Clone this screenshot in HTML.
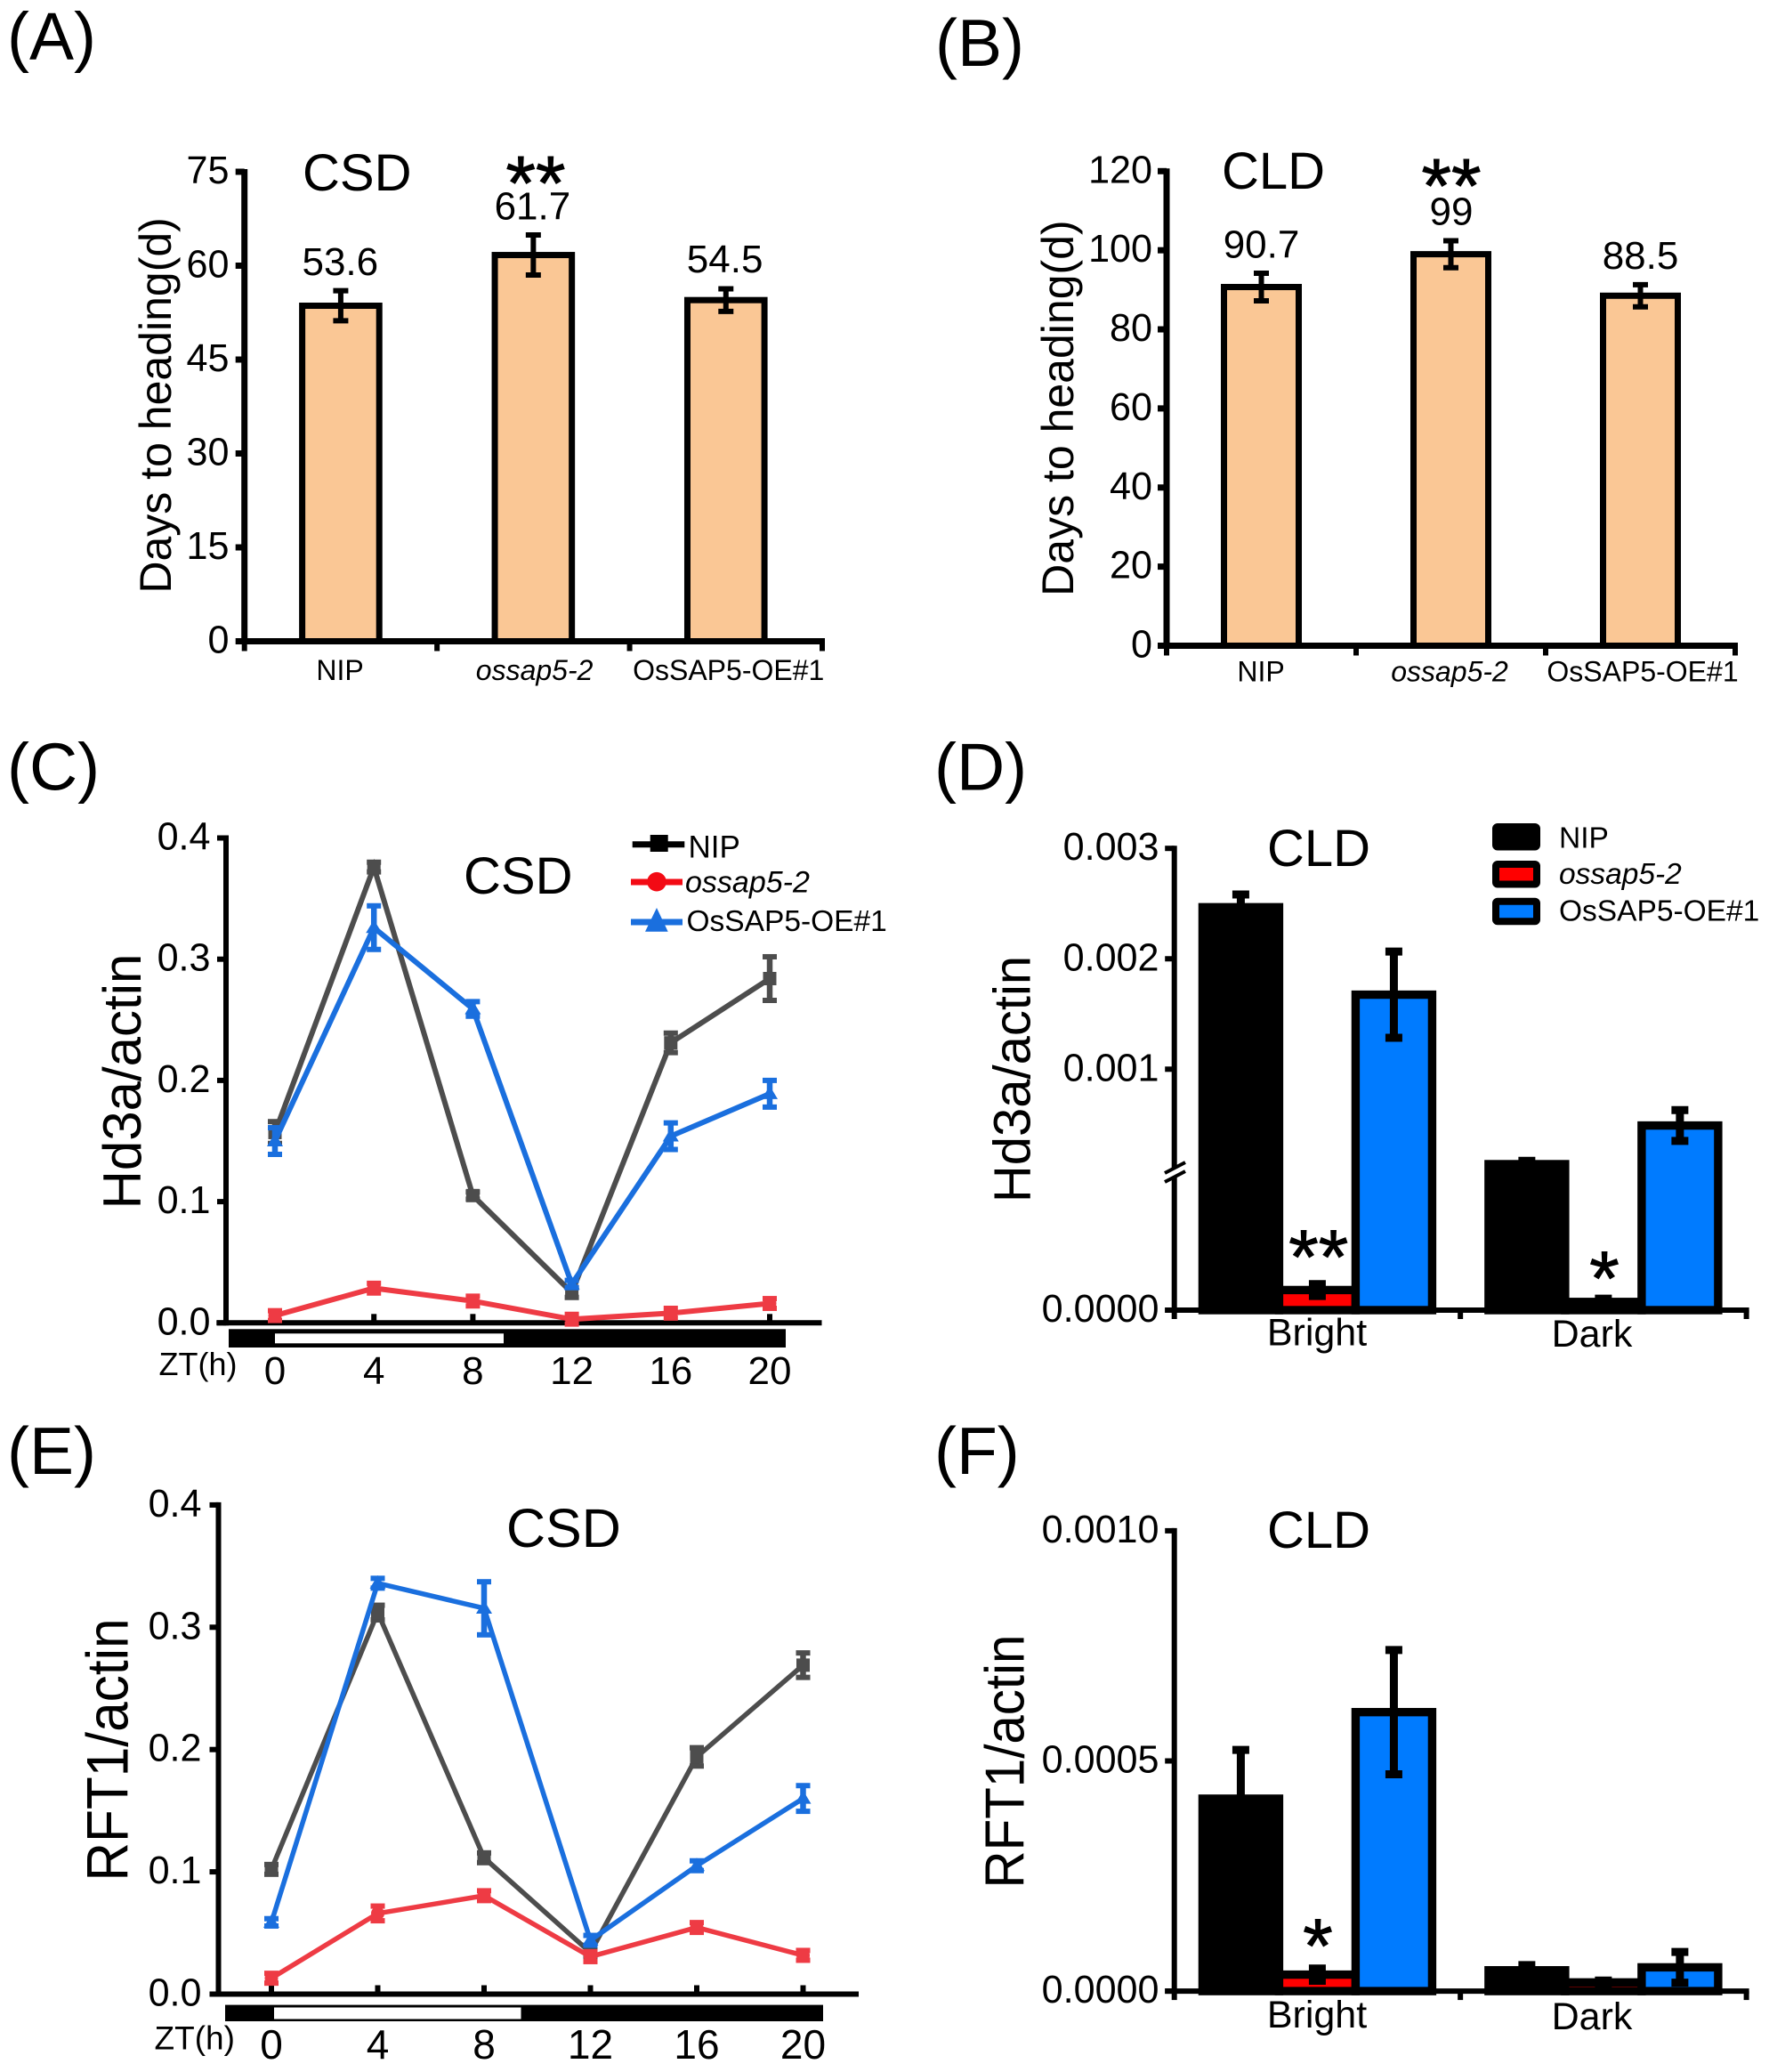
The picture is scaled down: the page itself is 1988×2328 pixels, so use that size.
<!DOCTYPE html>
<html>
<head>
<meta charset="utf-8">
<title>Heading date and florigen expression</title>
<style>
html,body{margin:0;padding:0;background:#fff;}
svg{display:block;}
text{font-family:"Liberation Sans",sans-serif;fill:#000;}
</style>
</head>
<body>
<svg id="figure" xmlns="http://www.w3.org/2000/svg" width="1988" height="2328" viewBox="0 0 1988 2328">
<rect x="0" y="0" width="1988" height="2328" fill="#fff"/>
<text x="8" y="66.5" font-size="75">(A)</text>
<text x="1051" y="74" font-size="75">(B)</text>
<text x="8" y="887.5" font-size="75">(C)</text>
<text x="1050" y="887.5" font-size="75">(D)</text>
<text x="8" y="1656" font-size="75">(E)</text>
<text x="1050" y="1656" font-size="75">(F)</text>
<text x="340" y="214" font-size="58">CSD</text>
<text x="1373" y="212" font-size="58">CLD</text>
<text x="521" y="1004" font-size="58">CSD</text>
<text x="1424" y="973" font-size="58">CLD</text>
<text x="569" y="1738" font-size="61">CSD</text>
<text x="1424" y="1739" font-size="58">CLD</text>
</svg>
<script>
// Panel A: days to heading, CSD
const panelACategories = ['NIP', 'ossap5-2', 'OsSAP5-OE#1'];
const panelAValues = [53.6, 61.7, 54.5];
const panelAErrors = [2.4, 3.2, 1.8];
const panelATickLabels = ['0', '15', '30', '45', '60', '75'];
// Panel B: days to heading, CLD
const panelBCategories = ['NIP', 'ossap5-2', 'OsSAP5-OE#1'];
const panelBValues = [90.7, 99, 88.5];
const panelBErrors = [3.5, 3.4, 2.8];
const panelBTickLabels = ['0', '20', '40', '60', '80', '100', '120'];
// Panel C: Hd3a time course, CSD
const panelCHours = [0, 4, 8, 12, 16, 20];
const panelCTickLabels = ['0.0', '0.1', '0.2', '0.3', '0.4'];
const panelCNip = [0.157, 0.376, 0.105, 0.025, 0.231, 0.284];
const panelCNipErr = [0.009, 0.004, 0.003, 0.004, 0.008, 0.018];
const panelCMutant = [0.006, 0.0286, 0.018, 0.003, 0.008, 0.016];
const panelCMutantErr = [0.004, 0.004, 0.004, 0.004, 0.004, 0.004];
const panelCOverexpr = [0.150, 0.326, 0.259, 0.032, 0.154, 0.189];
const panelCOverexprErr = [0.011, 0.018, 0.006, 0.003, 0.011, 0.011];
// Panel D: Hd3a bright/dark, CLD (broken axis)
const panelDGroups = ['Bright', 'Dark'];
const panelDTickLabels = ['0.0000', '0.001', '0.002', '0.003'];
const panelDNip = [0.002467, 0.00014];
const panelDNipErr = [0.000115, 0.00003];
const panelDMutant = [0.0000142, 0.0000058];
const panelDMutantErr = [0.0000042, 0.0000023];
const panelDOverexpr = [0.001675, 0.00049];
const panelDOverexprErr = [0.00039, 0.00014];
// Panel E: RFT1 time course, CSD
const panelEHours = [0, 4, 8, 12, 16, 20];
const panelETickLabels = ['0.0', '0.1', '0.2', '0.3', '0.4'];
const panelENip = [0.102, 0.312, 0.1115, 0.034, 0.194, 0.269];
const panelENipErr = [0.004, 0.006, 0.004, 0.003, 0.0075, 0.010];
const panelEMutant = [0.013, 0.066, 0.0805, 0.0306, 0.0545, 0.0317];
const panelEMutantErr = [0.004, 0.006, 0.004, 0.004, 0.004, 0.004];
const panelEOverexpr = [0.0587, 0.336, 0.3155, 0.044, 0.105, 0.16];
const panelEOverexprErr = [0.003, 0.004, 0.0217, 0.004, 0.004, 0.0105];
// Panel F: RFT1 bright/dark, CLD
const panelFGroups = ['Bright', 'Dark'];
const panelFTickLabels = ['0.0000', '0.0005', '0.0010'];
const panelFNip = [0.000418, 0.0000452];
const panelFNipErr = [0.000106, 0.0000114];
const panelFMutant = [0.0000358, 0.0000189];
const panelFMutantErr = [0.0000133, 0.000004];
const panelFOverexpr = [0.000606, 0.0000516];
const panelFOverexprErr = [0.000135, 0.0000334];

const NS = 'http://www.w3.org/2000/svg';
const root = document.getElementById('figure');

function node(tag, attrs, name) {
  const el = document.createElementNS(NS, tag);
  for (const k in attrs) el.setAttribute(k, attrs[k]);
  
  
  root.appendChild(el);
  return el;
}
function line(x1, y1, x2, y2, stroke, w, name) {
  return node('line', { x1: x1, y1: y1, x2: x2, y2: y2, stroke: stroke, 'stroke-width': w }, name);
}
function label(str, x, y, size, anchor, name, opts) {
  const o = opts || {};
  const sx = o.sx || 1;
  const rot = o.rot ? ' rotate(' + o.rot + ')' : '';
  const attrs = { transform: 'translate(' + x + ' ' + y + ')' + rot + ' scale(' + sx + ' 1)', 'font-size': size, 'text-anchor': anchor };
  if (o.italic) attrs['font-style'] = 'italic';
  if (o.heavy) { attrs.stroke = '#000'; attrs['stroke-width'] = o.heavy; }
  const el = node('text', attrs, name);
  el.textContent = str;
  return el;
}
function errorBar(x, yHigh, yLow, capW, w, capH, color, name) {
  line(x, yHigh, x, yLow, color, w, name + '-stem');
  line(x - capW / 2, yHigh, x + capW / 2, yHigh, color, capH, name + '-cap-top');
  line(x - capW / 2, yLow, x + capW / 2, yLow, color, capH, name + '-cap-bottom');
}
function linear(d0, d1, r0, r1) {
  return function (v) { return r0 + (v - d0) / (d1 - d0) * (r1 - r0); };
}
function yAxis(prefix, ax, yTop, yBottom, w, tickLen, labels, y, rightEdge, size, sx) {
  line(ax, yTop - 3, ax, yBottom + 3, '#000', w, prefix + '-y-axis');
  labels.forEach(function (t) {
    const yy = y(Number(t));
    line(ax - tickLen, yy, ax, yy, '#000', w, prefix + '-y-tick');
    label(t, rightEdge, yy + 13, size, 'end', prefix + '-y-tick-label', { sx: sx });
  });
}

/* Panels A, B: single peach bars */
function headingPanel(p) {
  const y = linear(0, p.max, p.bottom, p.top);
  const band = (p.right - p.left) / p.categories.length;
  const xc = function (i) { return p.left + (i + 0.5) * band; };
  p.values.forEach(function (v, i) {
    node('rect', { x: xc(i) - p.barW / 2, y: y(v), width: p.barW, height: p.bottom - y(v), fill: '#fac795', stroke: '#000', 'stroke-width': 7 }, p.id + '-bar-' + i);
    errorBar(xc(i), y(v + p.errors[i]), y(v - p.errors[i]), 17, 6, 6, '#000', p.id + '-error-' + i);
    label(String(v), p.valueX[i], p.valueY[i], 44, 'middle', p.id + '-value-' + i, {});
  });
  yAxis(p.id, p.left, p.top, p.bottom, 7, 10, p.ticks, y, p.labelRight, 44, 0.98);
  line(p.left - 3, p.bottom, p.right + 3, p.bottom, '#000', 7, p.id + '-x-axis');
  for (let i = 0; i <= p.categories.length; i++) {
    line(p.left + i * band, p.bottom, p.left + i * band, p.bottom + 11, '#000', 6, p.id + '-x-tick');
  }
  p.categories.forEach(function (c, i) {
    label(c, p.catX[i], p.catY, 32, 'middle', p.id + '-category-' + i, { italic: c === 'ossap5-2' });
  });
}
headingPanel({ id: 'panel-a', categories: panelACategories, values: panelAValues, errors: panelAErrors, ticks: panelATickLabels,
  left: 274.7, right: 924, top: 193, bottom: 720.5, max: 75, barW: 86.6, labelRight: 257.5,
  valueX: [382.3, 598.4, 814.6], valueY: [309, 246.5, 306], catX: [382, 600.6, 818.7], catY: 764 });
headingPanel({ id: 'panel-b', categories: panelBCategories, values: panelBValues, errors: panelBErrors, ticks: panelBTickLabels,
  left: 1311, right: 1950, top: 192.3, bottom: 725.5, max: 120, barW: 84, labelRight: 1295,
  valueX: [1417.5, 1631, 1843.5], valueY: [289.3, 252.6, 302], catX: [1417, 1629, 1846], catY: 765.3 });

/* Panels C, E: time courses */
function marker(kind, x, y, color, name) {
  if (kind === 'square') {
    node('rect', { x: x - 7.5, y: y - 7.5, width: 15, height: 15, fill: color }, name);
  } else if (kind === 'circle') {
    node('circle', { cx: x, cy: y, r: 7.5, fill: color }, name);
  } else {
    node('polygon', { points: (x - 9) + ',' + (y + 6) + ' ' + (x + 9) + ',' + (y + 6) + ' ' + x + ',' + (y - 9), fill: color }, name);
  }
}
function timePanel(p) {
  const x = linear(0, 20, p.x0, p.x20);
  const y = linear(0, 0.4, p.bottom, p.top);
  yAxis(p.id, p.axisX, p.top, p.bottom, 6, 10, p.ticks, y, p.labelRight, 44, 0.98);
  line(p.axisLeft, p.bottom, p.right, p.bottom, '#000', 6, p.id + '-x-axis');
  p.hours.forEach(function (h) {
    line(x(h), p.bottom - 10, x(h), p.bottom, '#000', 6, p.id + '-x-tick');
    label(String(h), x(h), p.hourY, p.hourSize, 'middle', p.id + '-x-tick-label', {});
  });
  node('rect', { x: p.barL, y: p.barT, width: p.barR - p.barL, height: p.barB - p.barT, fill: '#000' }, p.id + '-dark-period-bar');
  node('rect', { x: p.whiteL, y: p.whiteT, width: p.whiteR - p.whiteL, height: p.whiteB - p.whiteT, fill: '#fff' }, p.id + '-light-period-bar');
  p.series.forEach(function (s) {
    const pts = s.values.map(function (v, i) { return x(p.hours[i]) + ',' + y(v); }).join(' ');
    node('polyline', { points: pts, fill: 'none', stroke: s.color, 'stroke-width': p.lineW, 'stroke-linejoin': 'miter' }, p.id + '-line-' + s.key);
    s.values.forEach(function (v, i) {
      errorBar(x(p.hours[i]), y(v + s.errors[i]), y(v - s.errors[i]), 16, 6.5, 6, s.color, p.id + '-error-' + s.key);
      marker(s.kind, x(p.hours[i]), y(v), s.color, p.id + '-point-' + s.key);
    });
  });
}
const seriesGray = '#4d4d4d', seriesRed = '#ee3b44', seriesBlue = '#1a6fde';
timePanel({ id: 'panel-c', hours: panelCHours, ticks: panelCTickLabels, x0: 309, x20: 865, axisX: 254, axisLeft: 243.3, right: 923.5, top: 941.5, bottom: 1486.3,
  labelRight: 236.5, hourY: 1555, hourSize: 44, barL: 257, barR: 883, barT: 1493.3, barB: 1514, whiteL: 309, whiteR: 566, whiteT: 1498.3, whiteB: 1509.3, lineW: 6,
  series: [
    { key: 'nip', values: panelCNip, errors: panelCNipErr, color: seriesGray, kind: 'square' },
    { key: 'ossap5-2', values: panelCMutant, errors: panelCMutantErr, color: seriesRed, kind: 'circle' },
    { key: 'oe', values: panelCOverexpr, errors: panelCOverexprErr, color: seriesBlue, kind: 'triangle' }
  ] });
timePanel({ id: 'panel-e', hours: panelEHours, ticks: panelETickLabels, x0: 305, x20: 902.5, axisX: 245.5, axisLeft: 236, right: 965, top: 1690.9, bottom: 2240.5,
  labelRight: 226.5, hourY: 2313, hourSize: 46, barL: 253, barR: 925, barT: 2252.6, barB: 2271, whiteL: 308, whiteR: 585.5, whiteT: 2255.5, whiteB: 2268.5, lineW: 5.5,
  series: [
    { key: 'nip', values: panelENip, errors: panelENipErr, color: seriesGray, kind: 'square' },
    { key: 'oe', values: panelEOverexpr, errors: panelEOverexprErr, color: seriesBlue, kind: 'triangle' },
    { key: 'ossap5-2', values: panelEMutant, errors: panelEMutantErr, color: seriesRed, kind: 'circle' }
  ] });
label('ZT(h)', 178.5, 1545, 36, 'start', 'panel-c-zt-label', {});
label('ZT(h)', 173.5, 2302.5, 37, 'start', 'panel-e-zt-label', {});

/* Legend for panel C */
line(710.7, 948.7, 769.3, 948.7, '#000', 7, 'legend-line-nip');
node('rect', { x: 730.7, y: 938, width: 20, height: 19, fill: '#000' }, 'legend-marker-nip');
label('NIP', 773.5, 963.3, 35, 'start', 'legend-label-nip', {});
line(709, 991, 767, 991, '#f30a14', 7, 'legend-line-ossap5-2');
node('circle', { cx: 738, cy: 990.7, r: 10.8, fill: '#f30a14' }, 'legend-marker-ossap5-2');
label('ossap5-2', 770, 1002.7, 34, 'start', 'legend-label-ossap5-2', { italic: true });
line(709, 1036, 767, 1036, seriesBlue, 7, 'legend-line-oe');
node('polygon', { points: '725,1046.7 750.7,1046.7 738,1020', fill: seriesBlue }, 'legend-marker-oe');
label('OsSAP5-OE#1', 771.5, 1046, 33.5, 'start', 'legend-label-oe', {});

/* Panels D, F: grouped bars */
function groupedPanel(p) {
  const barW = 86;
  const band = (p.right - p.left) / p.groups.length;
  p.series.forEach(function (s, si) {
    s.values.forEach(function (v, g) {
      const xc = p.left + (g + 0.5) * band + (si - 1) * barW;
      const yy = p.y(v);
      node('rect', { x: xc - barW / 2, y: yy, width: barW, height: p.bottom - yy, fill: s.fill, stroke: '#000', 'stroke-width': 9.4 }, p.id + '-bar-' + s.key + '-' + g);
    });
  });
  yAxis(p.id, p.left, p.top, p.bottom, 6, 10.5, p.ticks, p.y, 1302.5, 44, 0.98);
  line(p.left - 10.5, p.bottom, p.right + 3, p.bottom, '#000', 6, p.id + '-x-axis');
  for (let i = 0; i <= p.groups.length; i++) {
    line(p.left + i * band, p.bottom, p.left + i * band, p.bottom + 10, '#000', 6, p.id + '-x-tick');
  }
  p.series.forEach(function (s, si) {
    s.values.forEach(function (v, g) {
      const xc = p.left + (g + 0.5) * band + (si - 1) * barW;
      errorBar(xc, p.y(v + s.errors[g]), p.y(v - s.errors[g]), 19, 9, 9, '#000', p.id + '-error-' + s.key + '-' + g);
    });
  });
  p.groups.forEach(function (c, g) {
    label(c, p.groupX[g], p.groupY[g], 43, 'middle', p.id + '-group-label-' + g, {});
  });
}
function yPanelD(v) {
  return v <= 0.0001 ? linear(0, 0.0001, 1472, 1313)(v) : linear(0.001, 0.003, 1201.3, 953.2)(v);
}
groupedPanel({ id: 'panel-d', groups: panelDGroups, ticks: panelDTickLabels, left: 1319.7, right: 1962.6, top: 953.2, bottom: 1472, y: yPanelD,
  groupX: [1480, 1789], groupY: [1511.7, 1513],
  series: [
    { key: 'nip', values: panelDNip, errors: panelDNipErr, fill: '#000' },
    { key: 'ossap5-2', values: panelDMutant, errors: panelDMutantErr, fill: '#ff0000' },
    { key: 'oe', values: panelDOverexpr, errors: panelDOverexprErr, fill: '#007bff' }
  ] });
groupedPanel({ id: 'panel-f', groups: panelFGroups, ticks: panelFTickLabels, left: 1319.7, right: 1962.6, top: 1719.9, bottom: 2237.1, y: linear(0, 0.001, 2237.1, 1719.9),
  groupX: [1480, 1789], groupY: [2278, 2280],
  series: [
    { key: 'nip', values: panelFNip, errors: panelFNipErr, fill: '#000' },
    { key: 'ossap5-2', values: panelFMutant, errors: panelFMutantErr, fill: '#ff0000' },
    { key: 'oe', values: panelFOverexpr, errors: panelFOverexprErr, fill: '#007bff' }
  ] });

/* Axis break on panel D */
node('polygon', { points: '1309,1318 1332,1306 1332,1316 1309,1328', fill: '#fff' }, 'panel-d-axis-break-gap');
line(1309, 1318, 1332, 1306, '#000', 4, 'panel-d-axis-break-upper');
line(1309, 1328, 1332, 1316, '#000', 4, 'panel-d-axis-break-lower');

/* Legend for panel D */
function barLegend(y, fill, text, ty, key) {
  node('rect', { x: 1681, y: y + 4, width: 46, height: 22.5, rx: 2, fill: fill, stroke: '#000', 'stroke-width': 8 }, 'bar-legend-swatch-' + key);
  label(text, 1752, ty, 33.5, 'start', 'bar-legend-label-' + key, { italic: key === 'ossap5-2' });
}
barLegend(925, '#000', 'NIP', 952.3, 'nip');
barLegend(967, '#ff0000', 'ossap5-2', 993, 'ossap5-2');
barLegend(1008.7, '#007bff', 'OsSAP5-OE#1', 1034.3, 'oe');

/* Axis titles */
label('Days to heading(d)', 192, 455.4, 50, 'middle', 'panel-a-y-axis-title', { rot: -90 });
label('Days to heading(d)', 1206, 458.6, 50, 'middle', 'panel-b-y-axis-title', { rot: -90 });
label('Hd3a/actin', 158, 1215, 60, 'middle', 'panel-c-y-axis-title', { rot: -90 });
label('Hd3a/actin', 1157.5, 1212.5, 58, 'middle', 'panel-d-y-axis-title', { rot: -90 });
label('RFT1/actin', 143.5, 1966, 66, 'middle', 'panel-e-y-axis-title', { rot: -90, sx: 0.915 });
label('RFT1/actin', 1150.6, 1979, 62, 'middle', 'panel-f-y-axis-title', { rot: -90, sx: 0.94 });

/* Significance marks */
label('**', 602, 235.6, 86, 'middle', 'panel-a-significance', { heavy: 1 });
label('**', 1631, 238.7, 86, 'middle', 'panel-b-significance', { heavy: 1 });
label('**', 1481.7, 1442, 86, 'middle', 'panel-d-significance-bright', { heavy: 1 });
label('*', 1803, 1466, 86, 'middle', 'panel-d-significance-dark', { heavy: 1 });
label('*', 1481, 2216, 86, 'middle', 'panel-f-significance', { heavy: 1 });
</script>
</body>
</html>
